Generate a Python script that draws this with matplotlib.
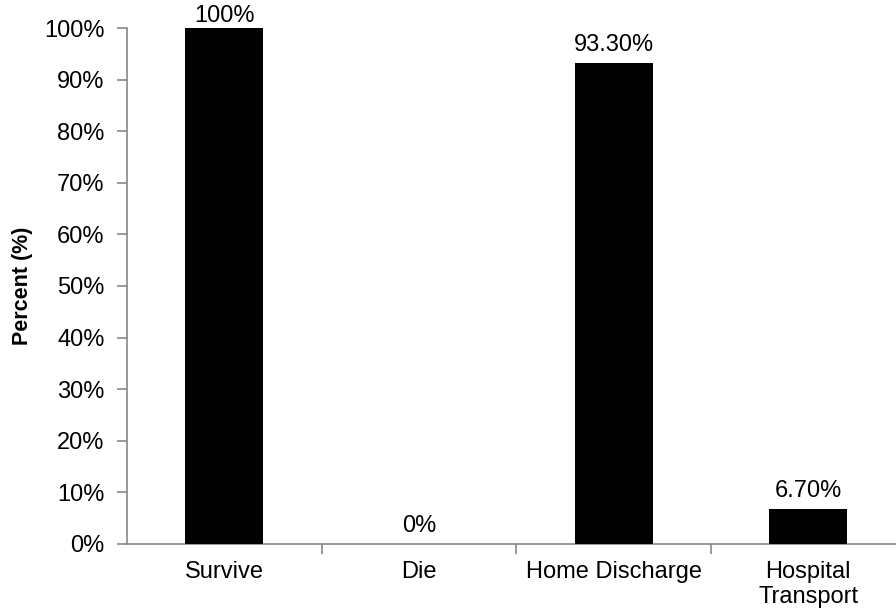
import matplotlib.pyplot as plt
import numpy as np

plt.rcParams['font.family'] = ['Liberation Sans', 'DejaVu Sans']

categories = ['Survive', 'Die', 'Home Discharge', 'Hospital\nTransport']
values = [100, 0, 93.3, 6.7]
value_labels = ['100%', '0%', '93.30%', '6.70%']
y_ticks = np.arange(0, 101, 10)

fig = plt.figure(figsize=(8.96, 6.13), dpi=100)
ax = fig.add_axes([0.1417, 0.1126, 0.869, 0.8417])

x = np.arange(len(categories))
ax.bar(x, values, width=0.4, color='black', zorder=3)

for xi, v, lab in zip(x, values, value_labels):
    off = 1 if v >= 100 else 5
    ax.annotate(lab, (xi, v), xytext=(0, off), textcoords='offset points',
                ha='center', va='bottom', fontsize=17, annotation_clip=False)

ax.set_xlim(-0.5, len(categories) - 0.5)
ax.set_ylim(0, 100)
ax.set_yticks(y_ticks)
ax.set_yticklabels([f'{t}%' for t in y_ticks], fontsize=17)
ax.set_xticks(x)
ax.set_xticklabels(categories, fontsize=17)
ax.set_xticks(np.arange(0.5, len(categories) - 0.5), minor=True)
ax.tick_params(axis='x', which='major', length=0, pad=12)
ax.tick_params(axis='x', which='minor', length=7, color='#888888', width=1.2)
ax.tick_params(axis='y', length=7, color='#888888', width=1.2, pad=9)
ax.set_ylabel('Percent (%)', fontsize=15.5, fontweight='bold', labelpad=8)

for s in ['top', 'right']:
    ax.spines[s].set_visible(False)
for s in ['left', 'bottom']:
    ax.spines[s].set_color('#888888')
    ax.spines[s].set_linewidth(1.2)

fig.savefig('out.png', dpi=100)
